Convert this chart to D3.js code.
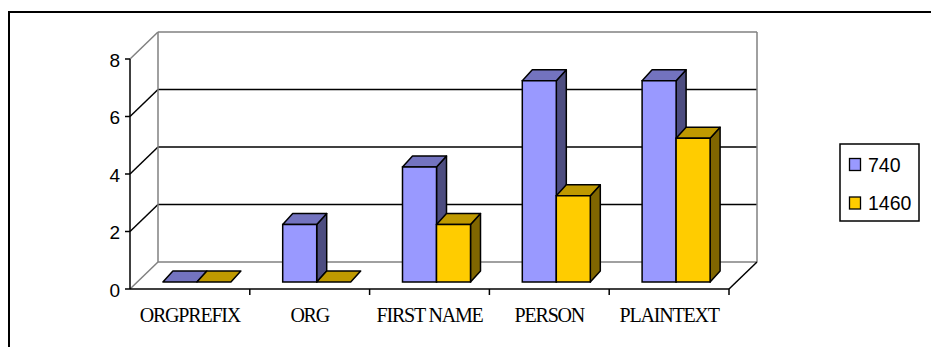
<!DOCTYPE html>
<html><head><meta charset="utf-8">
<script src="https://cdn.jsdelivr.net/npm/d3@7"></script>
<style>body{margin:0;background:#fff}svg{display:block}</style>
</head><body>
<script>
const categories = ["ORGPREFIX","ORG","FIRST NAME","PERSON","PLAINTEXT"];
const seriesNames = ["740","1460"];
const values740 = [0,2,4,7,7];
const values1460 = [0,0,2,3,5];
const yTicks = [0,2,4,6,8];

const W = 931, H = 347;
const svg = d3.select("body").append("svg").attr("width",W).attr("height",H);

// outer border
svg.append("rect").attr("x",9).attr("y",12).attr("width",W+20).attr("height",H+20)
  .attr("fill","none").attr("stroke","#000").attr("stroke-width",2);

const x0 = d3.scaleBand().domain(categories).range([130,729]);
const y = d3.scaleLinear().domain([0,8]).range([289,59]);
const groupW = 68;
const x1 = d3.scaleBand().domain(seriesNames).range([0,groupW]);
const wallDX = 28, wallDY = -27;   // wall depth
const barOffX = 7, barOffY = -7;   // bar front depth
const barDX = 10, barDY = -11;     // bar depth

const colors = {
  "740": {front:"#9999FF", top:"#7373BF", side:"#4D4D80"},
  "1460":{front:"#FFCC00", top:"#BF9900", side:"#806600"}
};

const g = svg.append("g");
const xL = x0.range()[0], xR = x0.range()[1];
const gray = "#808080";

// back wall gridlines
yTicks.forEach(t => {
  const yy = y(t);
  const isEdge = (t===0 || t===8);
  g.append("line").attr("x1",xL+wallDX).attr("x2",xR+wallDX).attr("y1",yy+wallDY).attr("y2",yy+wallDY)
    .attr("stroke", isEdge?gray:"#000").attr("stroke-width",1.5);
  g.append("line").attr("x1",xL).attr("y1",yy).attr("x2",xL+wallDX).attr("y2",yy+wallDY)
    .attr("stroke", isEdge?gray:"#000").attr("stroke-width",1.5);
});
// back wall verticals
[xL+wallDX, xR+wallDX].forEach(xx => {
  g.append("line").attr("x1",xx).attr("x2",xx).attr("y1",y(0)+wallDY).attr("y2",y(8)+wallDY)
    .attr("stroke",gray).attr("stroke-width",1.5);
});
// floor right edge
g.append("line").attr("x1",xR).attr("y1",y(0)).attr("x2",xR+wallDX).attr("y2",y(0)+wallDY)
  .attr("stroke","#000").attr("stroke-width",1.5);

// y axis
g.append("line").attr("x1",xL).attr("x2",xL).attr("y1",y(0)).attr("y2",y(8)).attr("stroke","#000").attr("stroke-width",1.5);
yTicks.forEach(t => {
  g.append("line").attr("x1",xL-5).attr("x2",xL).attr("y1",y(t)).attr("y2",y(t)).attr("stroke","#000").attr("stroke-width",1.5);
  g.append("text").attr("x",xL-10).attr("y",y(t)+1).attr("dy","0.36em").attr("text-anchor","end")
    .attr("font-family","Liberation Sans, Arial, sans-serif").attr("font-size",19).text(t);
});
// x axis
g.append("line").attr("x1",xL).attr("x2",xR).attr("y1",y(0)).attr("y2",y(0)).attr("stroke","#000").attr("stroke-width",1.5);
categories.forEach((c,i) => {
  const xx = x0(c)+x0.bandwidth();
  g.append("line").attr("x1",xx).attr("x2",xx).attr("y1",y(0)).attr("y2",y(0)+6).attr("stroke","#000").attr("stroke-width",1.5);
  g.append("text").attr("x",x0(c)+x0.bandwidth()/2).attr("y",322).attr("text-anchor","middle")
    .attr("font-family","Liberation Serif, Times New Roman, serif").attr("font-size",20)
    .attr("letter-spacing","-1.2").text(c);
});

// bars
const data = {"740":values740, "1460":values1460};
categories.forEach((c,i) => {
  seriesNames.forEach(s => {
    const v = data[s][i];
    const col = colors[s];
    const xa = x0(c) + (x0.bandwidth()-groupW)/2 + x1(s) + barOffX;
    const xb = xa + x1.bandwidth();
    const yb = y(0) + barOffY;
    const yt = y(v) + barOffY;
    const pts = a => a.map(p=>p.join(",")).join(" ");
    const sw = 1.5;
    if (v > 0) {
      g.append("polygon").attr("points",pts([[xb,yt],[xb+barDX,yt+barDY],[xb+barDX,yb+barDY],[xb,yb]]))
        .attr("fill",col.side).attr("stroke","#000").attr("stroke-width",sw).attr("stroke-linejoin","round");
    }
    g.append("polygon").attr("points",pts([[xa,yt],[xa+barDX,yt+barDY],[xb+barDX,yt+barDY],[xb,yt]]))
      .attr("fill",col.top).attr("stroke","#000").attr("stroke-width",sw).attr("stroke-linejoin","round");
    if (v > 0) {
      g.append("rect").attr("x",xa).attr("y",yt).attr("width",xb-xa).attr("height",yb-yt)
        .attr("fill",col.front).attr("stroke","#000").attr("stroke-width",sw);
    }
  });
});

// legend
const lg = svg.append("g");
lg.append("rect").attr("x",840).attr("y",144).attr("width",79).attr("height",77)
  .attr("fill","#fff").attr("stroke","#000").attr("stroke-width",1.5);
seriesNames.forEach((s,i) => {
  const yy = 158.5 + i*38.5;
  lg.append("rect").attr("x",849.5).attr("y",yy).attr("width",11).attr("height",12)
    .attr("fill",colors[s].front).attr("stroke","#000").attr("stroke-width",1.3);
  lg.append("text").attr("x",868).attr("y",yy+6).attr("dy","0.36em")
    .attr("font-family","Liberation Sans, Arial, sans-serif").attr("font-size",19.5).text(s);
});
</script>
</body></html>
